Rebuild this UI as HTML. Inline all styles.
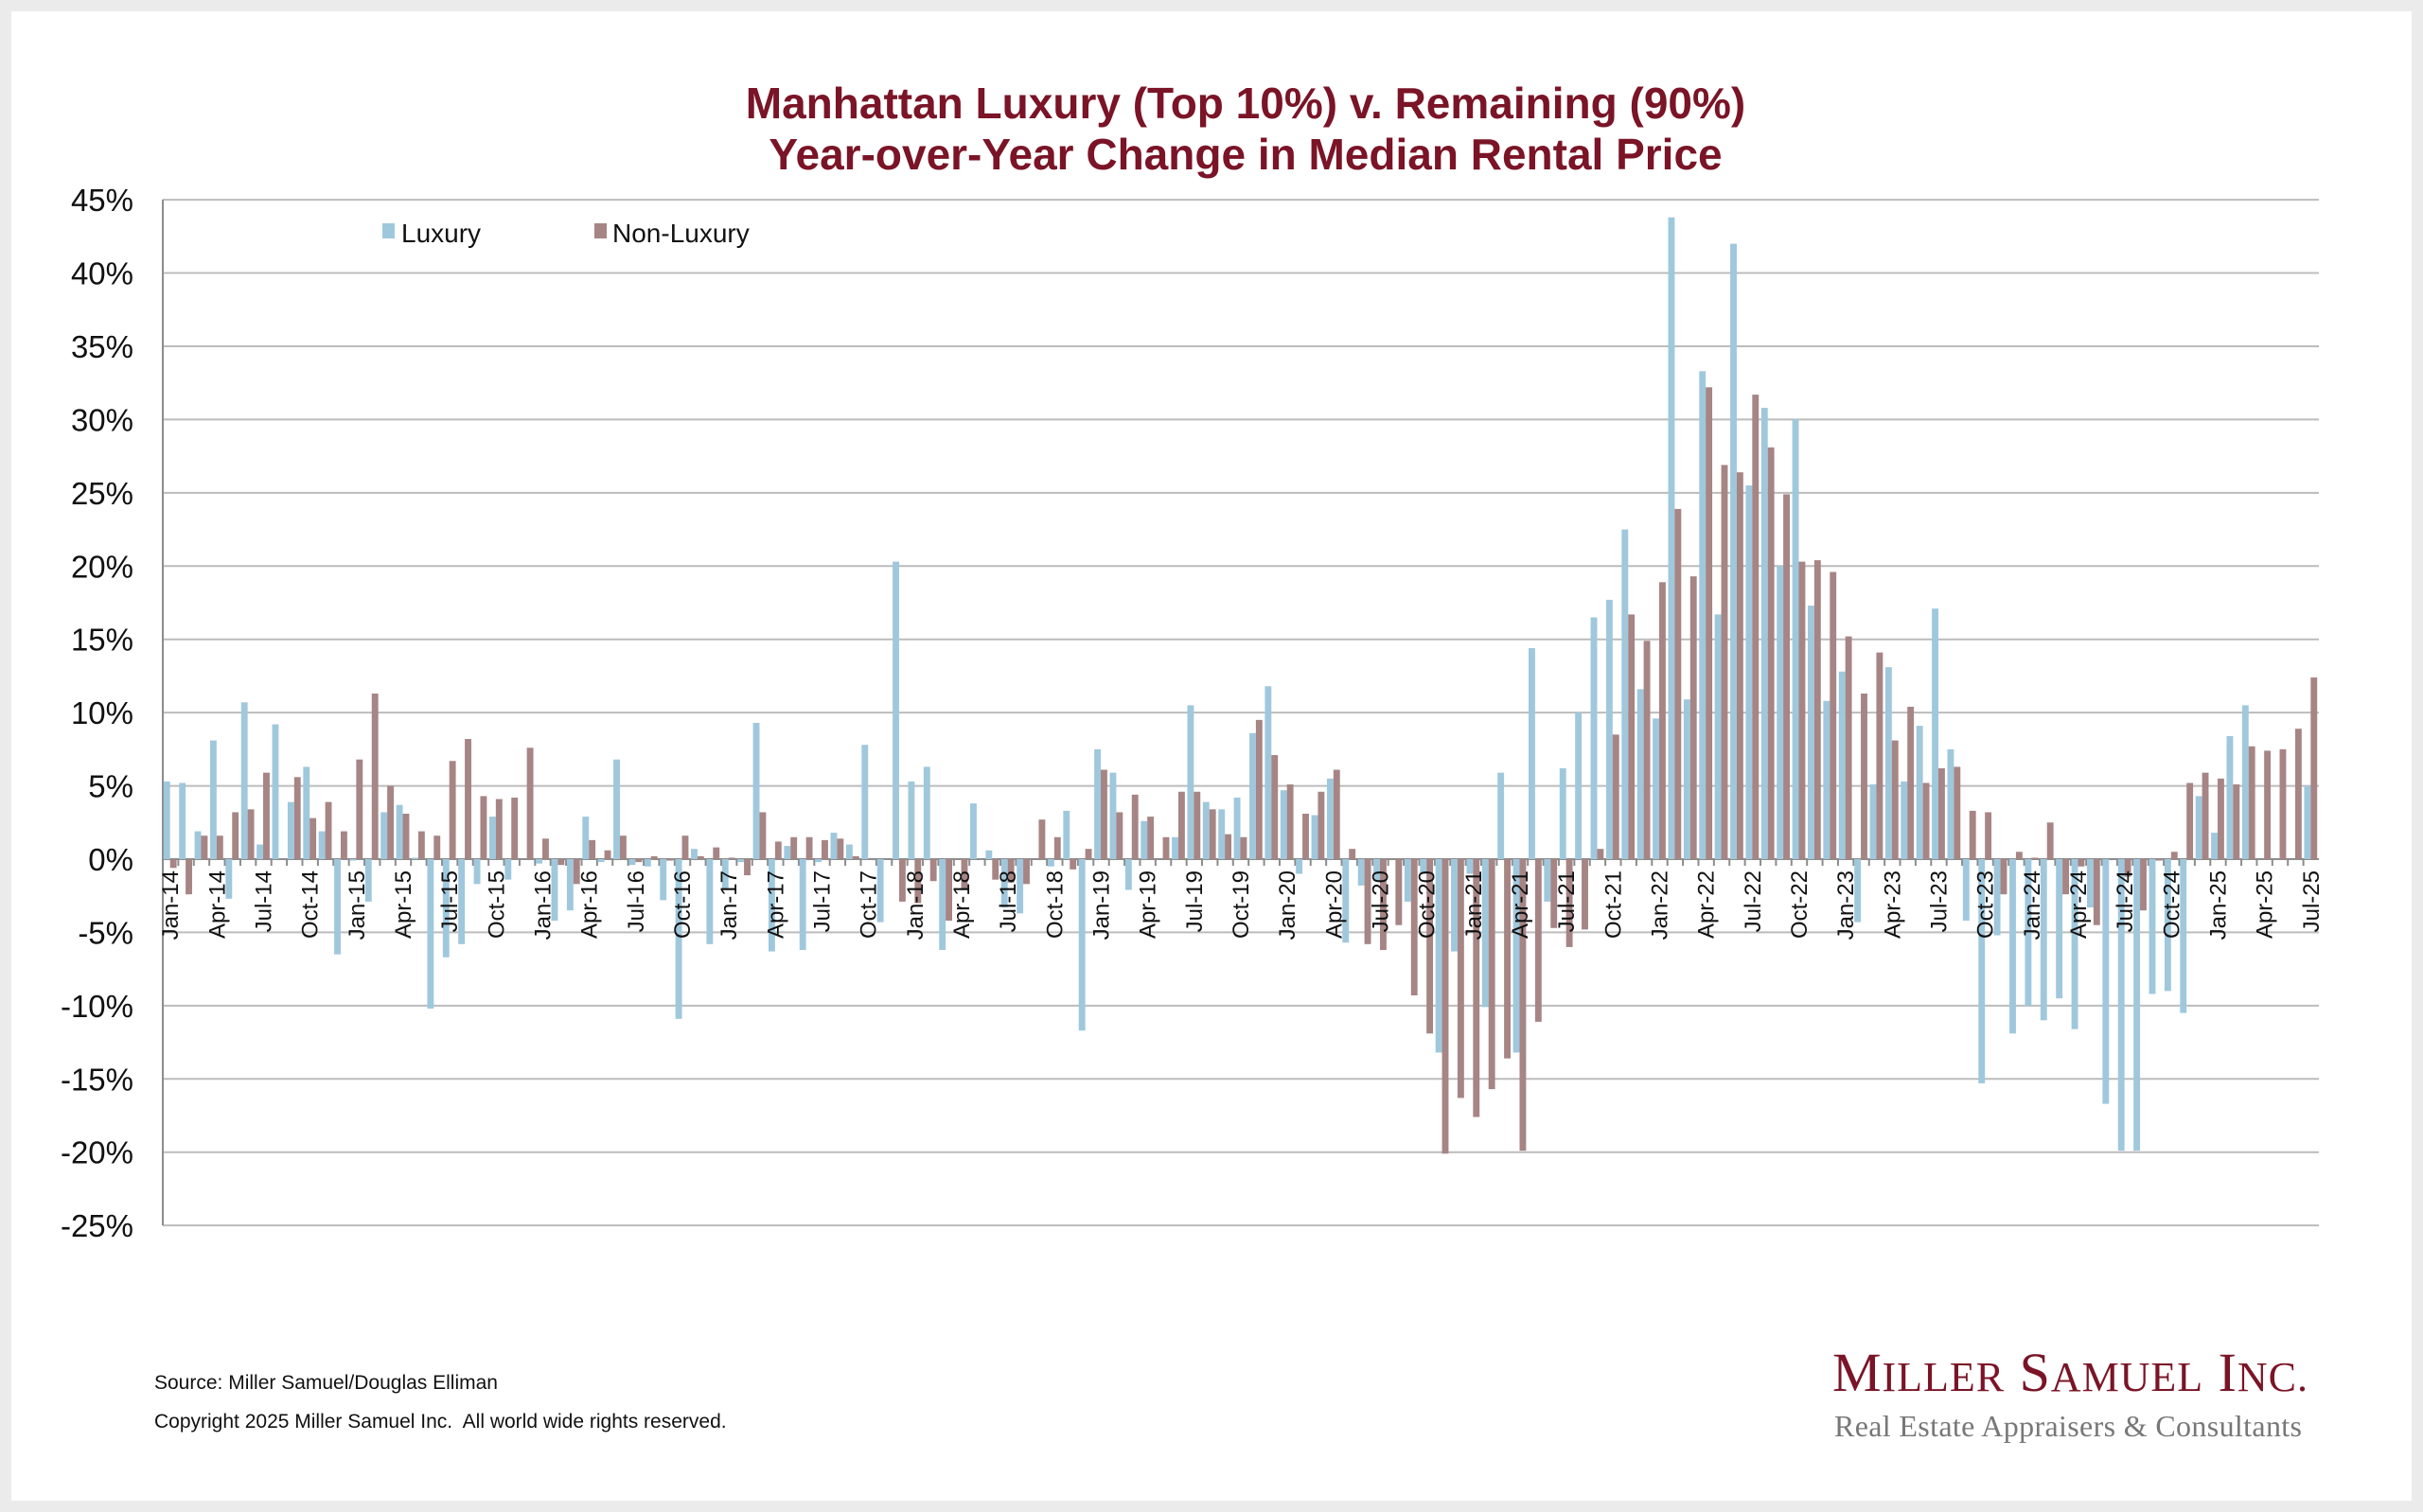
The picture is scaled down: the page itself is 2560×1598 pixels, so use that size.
<!DOCTYPE html>
<html><head><meta charset="utf-8"><style>
html,body{margin:0;padding:0;background:#ebebeb;}
svg{display:block;}
text{font-family:"Liberation Sans",Arial,sans-serif;}
</style></head><body>
<svg id="chart" width="2560" height="1598" viewBox="0 0 2560 1598" xmlns="http://www.w3.org/2000/svg">
<rect x="12" y="12" width="2536" height="1574" fill="#ffffff"/>
<text x="1316" y="125" text-anchor="middle" font-size="46" font-weight="bold" fill="#7a1426">Manhattan Luxury (Top 10%) v. Remaining (90%)</text>
<text x="1316" y="179" text-anchor="middle" font-size="46" font-weight="bold" fill="#7a1426">Year-over-Year Change in Median Rental Price</text>
<g id="grid"></g>
<g id="ylabels"></g>
<g id="bars"></g>
<g id="xlabels"></g>
<g>
<rect x="404" y="236" width="13" height="16" fill="#9fc8dd"/>
<text x="424" y="256" font-size="28" fill="#111">Luxury</text>
<rect x="628" y="236" width="13" height="16" fill="#a68584"/>
<text x="647" y="256" font-size="28" fill="#111">Non-Luxury</text>
</g>
<text x="163" y="1468" font-size="21" fill="#111">Source: Miller Samuel/Douglas Elliman</text>
<text x="163" y="1509" font-size="21" fill="#111">Copyright 2025 Miller Samuel Inc.&#160; All world wide rights reserved.</text>
<text x="1936" y="1470" style="font-family:'Liberation Serif',serif" font-size="58" fill="#7a1426" textLength="502">M<tspan font-size="44">ILLER</tspan> S<tspan font-size="44">AMUEL</tspan> I<tspan font-size="44">NC.</tspan></text>
<text x="1938" y="1518" style="font-family:'Liberation Serif',serif" font-size="32" fill="#777" textLength="494">Real Estate Appraisers &amp; Consultants</text>
</svg>
<script>
const luxury=[5.3,5.2,1.9,8.1,-2.7,10.7,1.0,9.2,3.9,6.3,1.9,-6.5,-0.1,-2.9,3.2,3.7,0.1,-10.2,-6.7,-5.8,-1.7,2.9,-1.4,0,
-0.3,-4.2,-3.5,2.9,-0.2,6.8,-0.4,-0.5,-2.8,-10.9,0.7,-5.8,-2.0,-0.2,9.3,-6.3,0.9,-6.2,-0.2,1.8,1.0,7.8,-4.3,20.3,
5.3,6.3,-6.2,0,3.8,0.6,-3.3,-3.7,0,-0.5,3.3,-11.7,7.5,5.9,-2.1,2.6,0,1.5,10.5,3.9,3.4,4.2,8.6,11.8,
4.7,-1.0,3.0,5.5,-5.7,-1.8,-1.5,0,-2.9,-1.0,-13.2,-6.3,-1.0,-10.1,5.9,-13.2,14.4,-2.9,6.2,10.0,16.5,17.7,22.5,11.6,
9.6,43.8,10.9,33.3,16.7,42.0,25.5,30.8,20.0,30.0,17.3,10.8,12.8,-4.3,5.1,13.1,5.3,9.1,17.1,7.5,-4.2,-15.3,-5.2,-11.9,
-10.0,-11.0,-9.5,-11.6,-3.3,-16.7,-19.9,-19.9,-9.2,-9.0,-10.5,4.3,1.8,8.4,10.5,0,0,0,5.0];
const nonLuxury=[-0.6,-2.4,1.6,1.6,3.2,3.4,5.9,0,5.6,2.8,3.9,1.9,6.8,11.3,5.0,3.1,1.9,1.6,6.7,8.2,4.3,4.1,4.2,7.6,
1.4,-0.4,-1.7,1.3,0.6,1.6,-0.2,0.2,-0.1,1.6,0.2,0.8,0.1,-1.1,3.2,1.2,1.5,1.5,1.3,1.4,0.2,0,0,-2.9,
-3.0,-1.5,-4.2,-2.1,0,-1.4,-1.6,-1.7,2.7,1.5,-0.7,0.7,6.1,3.2,4.4,2.9,1.5,4.6,4.6,3.4,1.7,1.5,9.5,7.1,
5.1,3.1,4.6,6.1,0.7,-5.8,-6.2,-4.5,-9.3,-11.9,-20.1,-16.3,-17.6,-15.7,-13.6,-19.9,-11.1,-4.7,-6.0,-4.8,0.7,8.5,16.7,14.9,
18.9,23.9,19.3,32.2,26.9,26.4,31.7,28.1,24.9,20.3,20.4,19.6,15.2,11.3,14.1,8.1,10.4,5.2,6.2,6.3,3.3,3.2,-2.4,0.5,
0.1,2.5,-2.4,-0.5,-4.5,0,-1.2,-3.5,-0.1,0.5,5.2,5.9,5.5,5.1,7.7,7.4,7.5,8.9,12.4];
const yTicks=[45,40,35,30,25,20,15,10,5,0,-5,-10,-15,-20,-25];
const monthNames=["Jan","Feb","Mar","Apr","May","Jun","Jul","Aug","Sep","Oct","Nov","Dec"];
const categories=[];
for(let i=0;i<139;i++){categories.push(monthNames[i%12]+"-"+(14+Math.floor(i/12)));}

const NS="http://www.w3.org/2000/svg";
const X0=172,X1=2450,Y0=908,PER=77.43/5;
const slot=(X1-X0)/categories.length;
function xPos(i){return X0+i*slot;}
function yPos(v){return Y0-v*PER;}
function mk(tag,attrs,parent){const e=document.createElementNS(NS,tag);for(const k in attrs)e.setAttribute(k,attrs[k]);parent.appendChild(e);return e;}

const grid=document.getElementById('grid'),yl=document.getElementById('ylabels');
yTicks.forEach(t=>{
  const l=mk('line',{x1:X0,x2:X1,y1:yPos(t),y2:yPos(t),stroke:t===0?'#8c8c8c':'#bcbcbc','stroke-width':2},grid);
  
  
  const tx=mk('text',{x:141,y:yPos(t)+12,'text-anchor':'end','font-size':33,fill:'#111'},yl);
  tx.textContent=t+'%';
  
  
});
const ax=mk('line',{x1:X0,x2:X0,y1:yPos(45),y2:yPos(-25),stroke:'#8c8c8c','stroke-width':2},grid);



const bars=document.getElementById('bars'),xl=document.getElementById('xlabels');
const bw=slot*0.42;
categories.forEach((c,i)=>{
  const s=xPos(i);
  const lv=luxury[i],nv=nonLuxury[i];
  const r1=mk('rect',{x:s+slot*0.05,y:Math.min(yPos(lv),Y0),width:bw,height:Math.abs(yPos(lv)-Y0),fill:'#9fc8dd'},bars);
  
  
  const r2=mk('rect',{x:s+slot*0.05+bw,y:Math.min(yPos(nv),Y0),width:bw,height:Math.abs(yPos(nv)-Y0),fill:'#a68584'},bars);
  
  
  const tk=mk('line',{x1:s,x2:s,y1:Y0,y2:Y0+7,stroke:'#8c8c8c','stroke-width':2},grid);
  
  
  if(i%3===0){
    const cx=s+slot/2+8, ty=Y0+12;
    const t=mk('text',{x:cx,y:ty,'text-anchor':'end','font-size':24,fill:'#111',transform:`rotate(-90 ${cx} ${ty})`},xl);
    t.textContent=c;
    
    
  }
});
</script>
</body></html>
